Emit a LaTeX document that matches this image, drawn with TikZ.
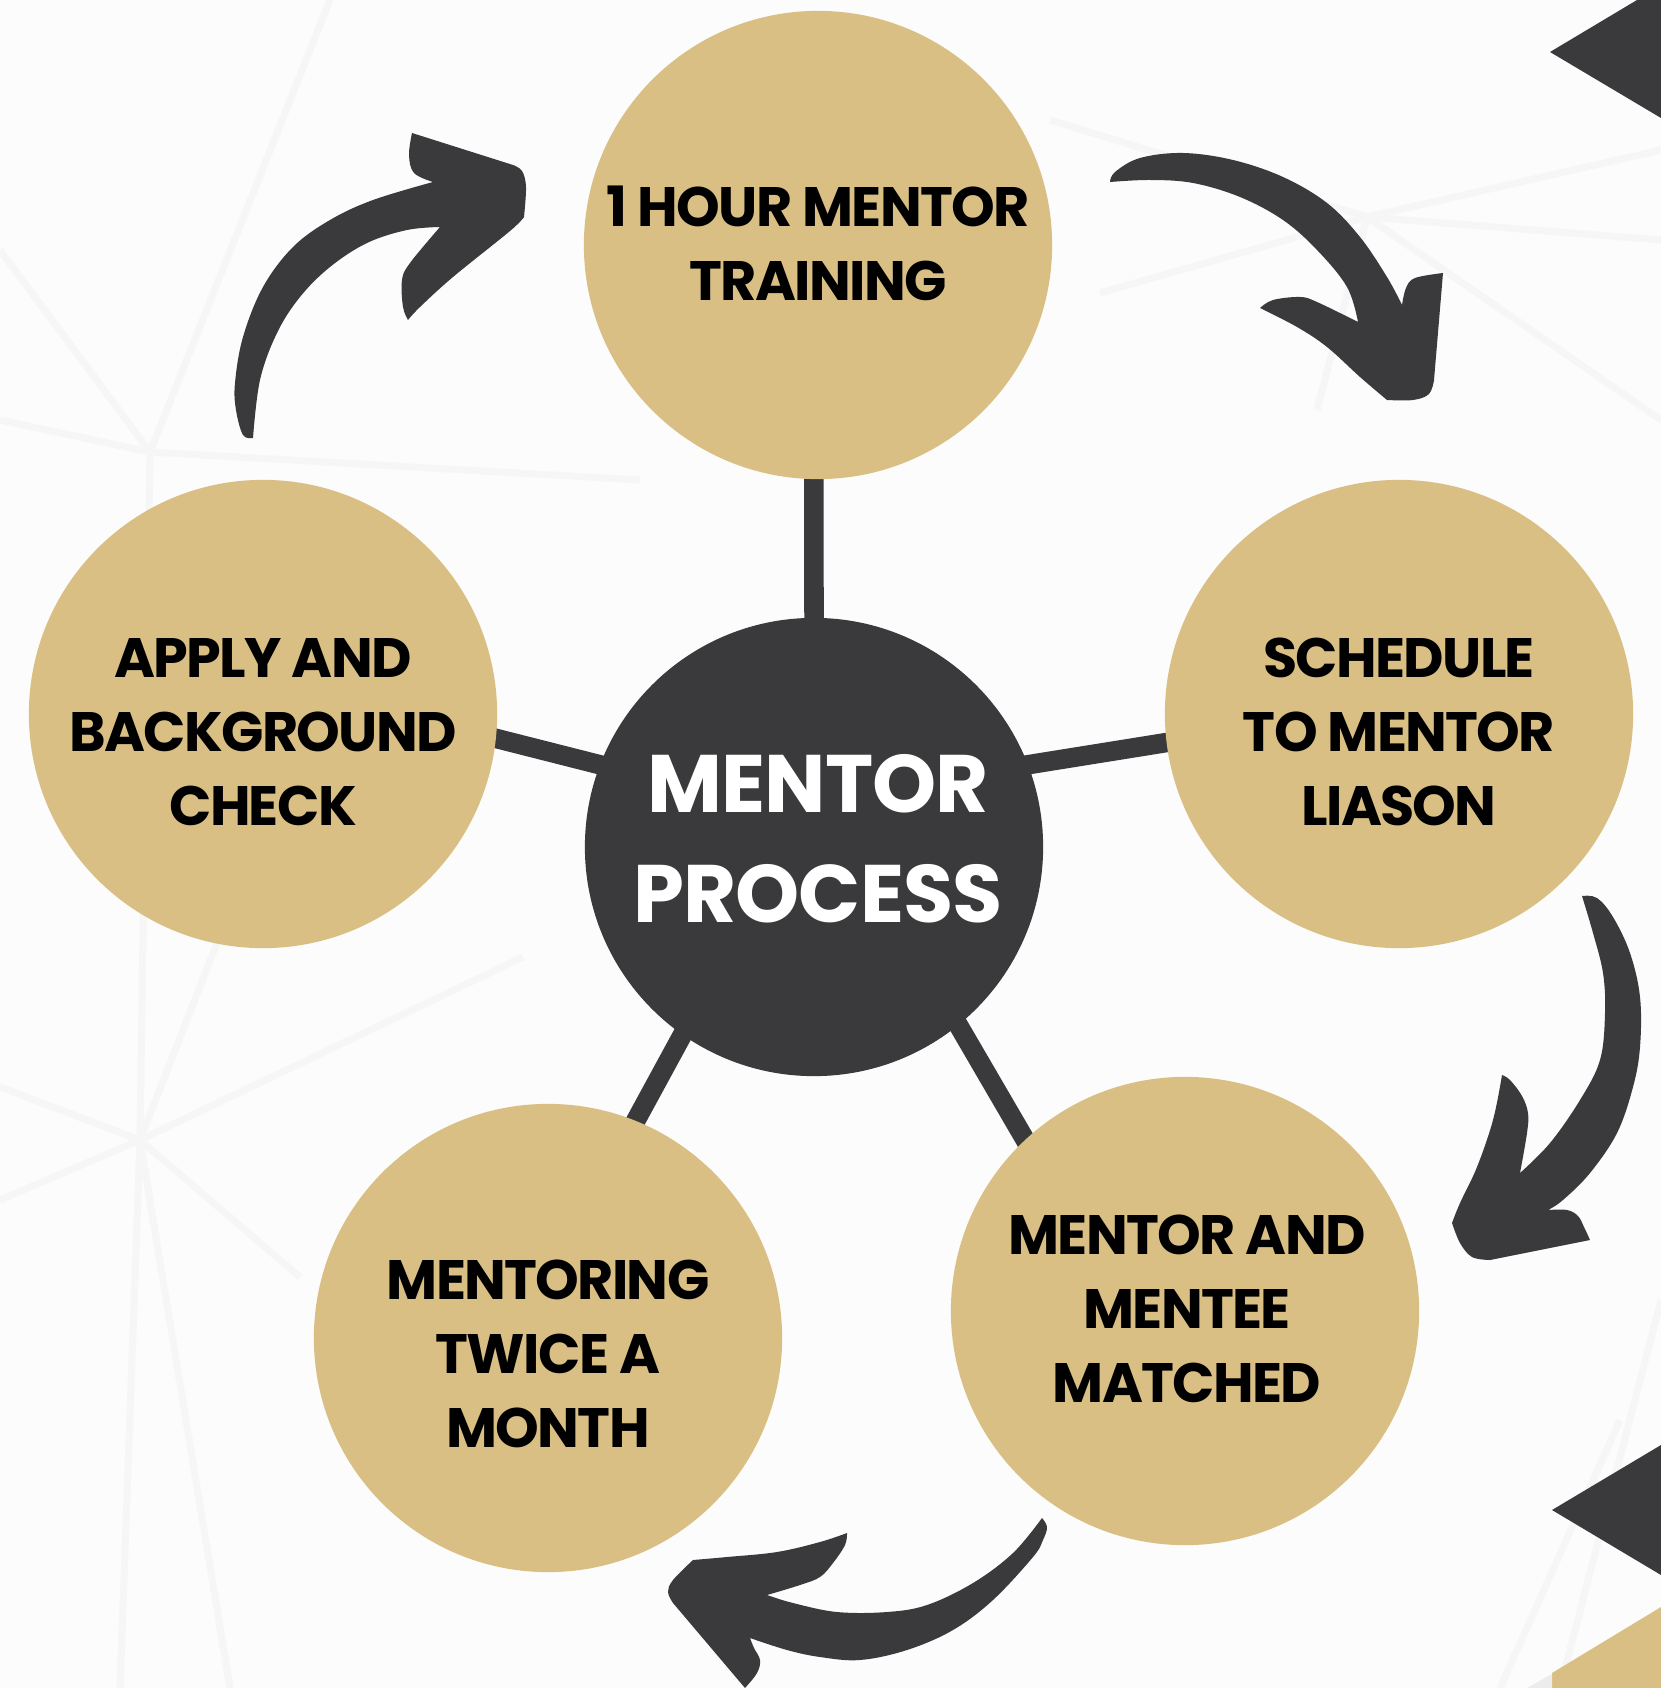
\documentclass[tikz,border=0pt]{standalone}
\usepackage{fontspec}
\setmainfont{Poppins}
\pgfdeclarelayer{bg}
\pgfdeclarelayer{links}
\pgfsetlayers{bg,links,main}
\definecolor{gold}{HTML}{D9BF84}
\definecolor{ink}{HTML}{3A3A3C}
\definecolor{paper}{HTML}{FCFCFC}
\definecolor{meshc}{HTML}{F6F6F6}
\begin{document}
\begin{tikzpicture}[x=0.01cm,y=-0.01cm,
  stepcirc/.style={circle, fill=gold, minimum size=4.68cm, inner sep=0pt},
  hub/.style={circle, fill=ink, minimum size=4.58cm, inner sep=0pt},
  lbl/.style={font=\fontsize{15.8}{21}\selectfont\bfseries\addfontfeature{LetterSpace=-3}, align=center, text=black, inner sep=0pt},
  hublbl/.style={font=\fontsize{23.2}{31.3}\selectfont\bfseries\addfontfeature{LetterSpace=-1}, align=center, text=white, inner sep=0pt},
  connector/.style={draw=ink, line width=5.55pt, shorten <=-12pt, shorten >=-12pt},
  curvearrow/.style={fill=ink},
  mesh/.style={draw=meshc, line width=2pt},
  sm/.style={smooth, tension=0.6}
]
\useasboundingbox (0,0) rectangle (1661,1688);
\begin{pgfonlayer}{bg}
  \fill[paper] (0,0) rectangle (1661,1688);
  % faint background mesh
  \draw[mesh] (0,420) -- (150,452) -- (640,480);
  \draw[mesh] (0,250) -- (150,452) -- (330,0);
  \draw[mesh] (150,452) -- (140,1140);
  \draw[mesh] (0,1087) -- (140,1140) -- (523,957);
  \draw[mesh] (0,1200) -- (140,1140) -- (300,1277);
  \draw[mesh] (120,1688) -- (140,1140) -- (230,1688);
  \draw[mesh] (140,1140) -- (217,943);
  \draw[mesh] (1100,293) -- (1367,217) -- (1661,150);
  \draw[mesh] (1367,217) -- (1661,240);
  \draw[mesh] (1367,217) -- (1317,410);
  \draw[mesh] (1367,217) -- (1661,420);
  \draw[mesh] (1050,120) -- (1367,217);
  \draw[mesh] (1661,1300) -- (1560,1688);
  \draw[mesh] (1500,1688) -- (1620,1420);
\end{pgfonlayer}

% corner shapes
\fill[ink] (1550,52) -- (1637,0) -- (1661,0) -- (1661,118) -- cycle;
\fill[ink] (1552,1510) -- (1661,1445) -- (1661,1575) -- cycle;
\fill[gold] (1552,1673) -- (1661,1607) -- (1661,1688) -- (1552,1688) -- cycle;
\fill[gray!15] (1527,1688) -- (1552,1674) -- (1552,1688) -- cycle;

% circles
\node[hub] (mp) at (814,847) {};
\node[stepcirc] (train) at (818,245) {};
\node[stepcirc] (apply) at (263,714) {};
\node[stepcirc] (sched) at (1399,714) {};
\node[stepcirc] (match) at (1185,1311) {};
\node[stepcirc] (twice) at (548,1338) {};

% texts
\node[hublbl] (mpT) at (818,839) {MENTOR\\PROCESS};
\node[lbl] (trainT) at (818,243) {1 HOUR MENTOR\\TRAINING};
\node[lbl] (applyT) at (263,732) {APPLY AND\\BACKGROUND\\CHECK};
\node[lbl] (schedT) at (1399,732) {SCHEDULE\\TO MENTOR\\LIASON};
\node[lbl] (matchT) at (1187,1309) {MENTOR AND\\MENTEE\\MATCHED};
\node[lbl] (twiceT) at (548,1354) {MENTORING\\TWICE A\\MONTH};

% connectors
\begin{pgfonlayer}{links}
  \draw[connector] (mp.90) -- (train.-91);
  \draw[connector] (mp.159) -- (apply.-6.6);
  \draw[connector] (mp.21.7) -- (sched.187);
  \draw[connector] (mp.-51.6) -- (match.133);
  \draw[connector] (mp.-125.5) -- (twice.68.7);
\end{pgfonlayer}

% curved arrows
\fill[curvearrow]
  plot[sm] coordinates {(253,438) (243,435) (236,410) (235,383) (243,337) (263,287) (293,247) (330,220) (373,200) (433,182)}
  -- plot[sm] coordinates {(433,182) (414,173) (409,155) (412,133)}
  -- plot[sm] coordinates {(513,165) (522,171) (526,187) (524,217)}
  -- plot[sm] coordinates {(524,217) (510,231) (453,277) (420,307) (408,320)}
  -- plot[sm] coordinates {(408,320) (403,307) (402,280) (410,263) (440,227)}
  -- plot[sm] coordinates {(440,227) (407,230) (367,243) (330,267) (300,297) (277,333) (260,380) (253,438)}
  -- cycle;
\fill[curvearrow]
  plot[sm] coordinates {(1110,182) (1115,172) (1140,158) (1183,153) (1233,160) (1283,177) (1327,203) (1360,237) (1387,277) (1402,305)}
  -- plot[sm] coordinates {(1402,305) (1406,288) (1415,278) (1443,273)}
  -- (1434,380)
  -- plot[sm] coordinates {(1434,380) (1429,394) (1413,400) (1387,400)}
  -- plot[sm] coordinates {(1387,400) (1360,377) (1327,347) (1297,327) (1260,308)}
  -- plot[sm] coordinates {(1260,308) (1273,300) (1300,297) (1317,302) (1358,322)}
  -- plot[sm] coordinates {(1358,322) (1347,287) (1317,250) (1283,220) (1240,197) (1193,183) (1150,180) (1110,182)}
  -- cycle;
\fill[curvearrow]
  plot[sm] coordinates {(1582,896) (1597,898) (1613,917) (1630,953) (1640,997) (1640,1047) (1633,1087) (1617,1133) (1590,1173) (1563,1200) (1548,1210)}
  -- plot[sm] coordinates {(1548,1210) (1567,1210) (1578,1216) (1584,1227) (1590,1240)}
  -- (1490,1260)
  -- plot[sm] coordinates {(1490,1260) (1472,1257) (1460,1243) (1452,1223)}
  -- plot[sm] coordinates {(1452,1223) (1460,1203) (1477,1167) (1493,1120) (1502,1075)}
  -- plot[sm] coordinates {(1502,1075) (1510,1080) (1522,1096) (1528,1113) (1527,1133) (1520,1173)}
  -- plot[sm] coordinates {(1520,1173) (1550,1143) (1580,1100) (1600,1060) (1605,1013) (1603,973) (1593,933) (1582,896)}
  -- cycle;
\fill[curvearrow]
  plot[sm] coordinates {(1042,1518) (1047,1527) (1043,1540) (1033,1557) (993,1600) (953,1630) (907,1650) (860,1660) (820,1657) (787,1650) (750,1638)}
  -- plot[sm] coordinates {(750,1638) (754,1648) (760,1660) (757,1673) (745,1688)}
  -- (673,1603)
  -- plot[sm] coordinates {(673,1603) (668,1592) (673,1580) (693,1560)}
  -- plot[sm] coordinates {(693,1560) (727,1557) (777,1552) (820,1542) (847,1533)}
  -- plot[sm] coordinates {(847,1533) (845,1545) (833,1563) (820,1577) (800,1585) (767,1595)}
  -- plot[sm] coordinates {(767,1595) (793,1603) (837,1612) (887,1612) (927,1605) (973,1583) (1013,1553) (1042,1518)}
  -- cycle;
\end{tikzpicture}
\end{document}
